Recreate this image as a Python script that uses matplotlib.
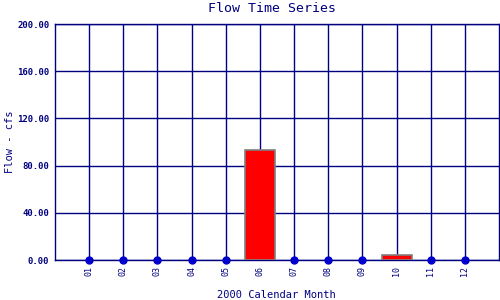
import matplotlib
matplotlib.use("Agg")
import matplotlib.pyplot as plt

# monthly flow values (cfs), year 2000
months = ["01", "02", "03", "04", "05", "06", "07", "08", "09", "10", "11", "12"]
flow = [0, 0, 0, 0, 0, 93, 0, 0, 0, 4.2, 0, 0]
yticks = [0, 40, 80, 120, 160, 200]

navy = "#000080"
plt.rcParams['font.family'] = ['DejaVu Sans Mono']

fig = plt.figure(figsize=(5, 3), dpi=100)
ax = fig.add_axes([0.11, 0.1333, 0.888, 0.7867])

x = list(range(1, len(months) + 1))
bx = [xi for xi, v in zip(x, flow) if v > 0]
bv = [v for v in flow if v > 0]
zx = [xi for xi, v in zip(x, flow) if v == 0]
zv = [v for v in flow if v == 0]

ax.bar(bx, bv, width=0.88, color="red", edgecolor="gray", linewidth=1.2, zorder=3)
ax.plot(zx, zv, "o", color="#0000cc", markersize=5, clip_on=False, zorder=4)

ax.set_xlim(0, 13)
ax.set_ylim(0, 200)
ax.set_xticks(x)
ax.set_xticklabels(months, rotation=90, fontsize=6, color=navy)
ax.set_yticks(yticks)
ax.set_yticklabels(["%.2f" % v for v in yticks], fontsize=6.5, color=navy, fontweight="bold")
ax.tick_params(length=0, pad=4)
ax.grid(True, color=navy, linewidth=1)
ax.set_axisbelow(True)
for s in ax.spines.values():
    s.set_color(navy)
    s.set_linewidth(1)

fig.text(0.545, 0.972, "Flow Time Series", fontsize=9.5, color=navy, ha="center", va="center")
fig.text(0.552, 0.018, "2000 Calendar Month", fontsize=7.5, color=navy, ha="center", va="center")
fig.text(0.02, 0.527, "Flow - cfs", fontsize=7.5, color=navy, ha="center", va="center", rotation=90)

fig.savefig("out.png", dpi=100)
